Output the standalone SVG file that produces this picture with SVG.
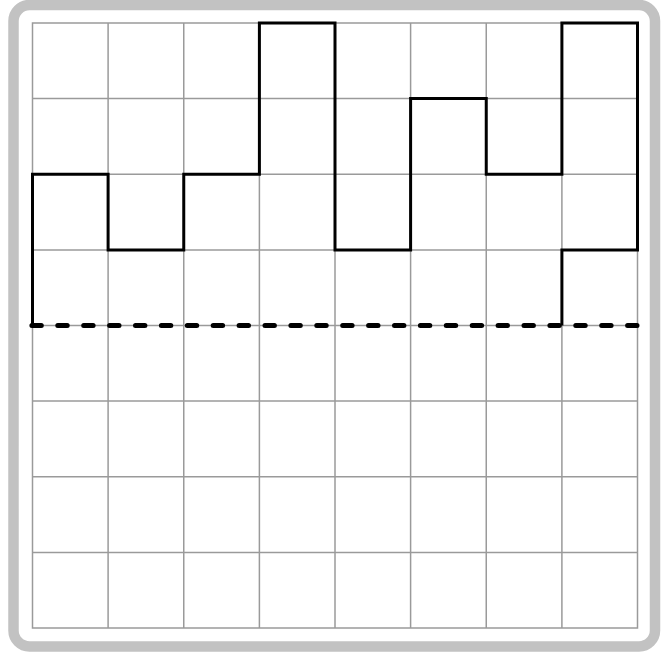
<svg xmlns="http://www.w3.org/2000/svg" width="667" height="655" viewBox="0 0 667 655">
<style>
.frame{fill:#fff;stroke:#c2c2c2;stroke-width:10.5}
.grid{stroke:#9a9a9a;stroke-width:1.5;fill:none}
.shape{stroke:#000;stroke-width:3;fill:none;stroke-linejoin:miter}
.base{stroke:#000;stroke-width:5;stroke-dasharray:9.4 16.5;stroke-linecap:round;fill:none}
</style>
<rect width="667" height="655" fill="#fff"/>
<rect id="frame" class="frame" x="13.5" y="5" width="641.5" height="641.5" rx="16" ry="16"/>
<g id="grid" class="grid">
<rect x="32.5" y="23" width="605" height="605"/>
<path d="M108.1 23V628M183.75 23V628M259.4 23V628M335 23V628M410.6 23V628M486.25 23V628M561.9 23V628"/>
<path d="M32.5 98.6H637.5M32.5 174.25H637.5M32.5 249.9H637.5M32.5 325.5H637.5M32.5 401.1H637.5M32.5 476.75H637.5M32.5 552.4H637.5"/>
</g>
<g id="connectors">
<path class="shape" d="M32.5 325.5V174.25H108.1V249.9H183.75V174.25H259.4V23H335V249.9H410.6V98.6H486.25V174.25H561.9V23H637.5V249.9H561.9V325.5"/>
<path class="base" d="M31.9 325.5H637.7"/>
</g>
</svg>
